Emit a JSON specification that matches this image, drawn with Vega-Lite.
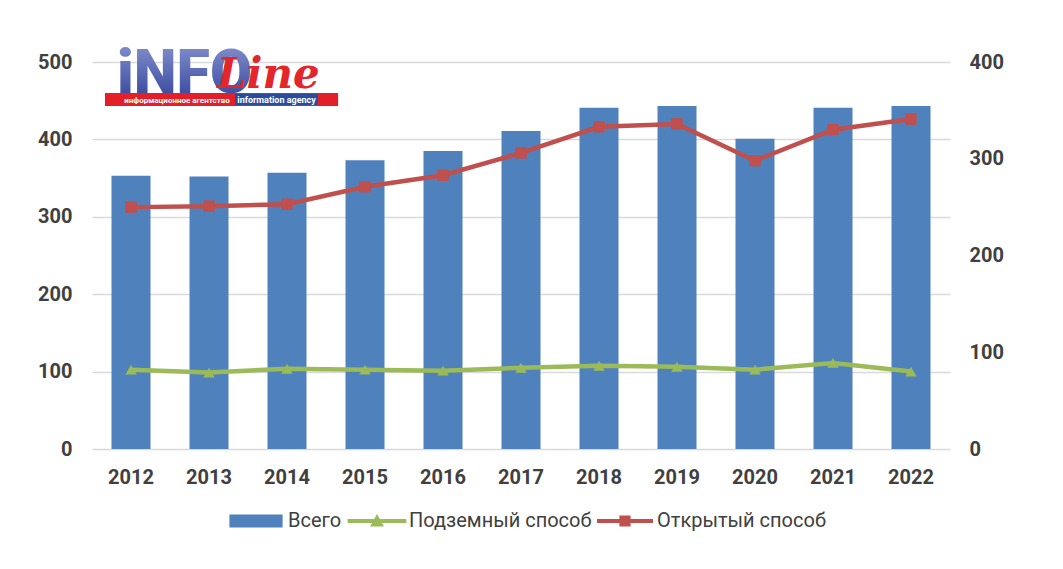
{
  "$schema": "https://vega.github.io/schema/vega-lite/v6.json",
  "width": 858,
  "height": 387,
  "autosize": "none",
  "padding": {"left": 92, "top": 62, "right": 113, "bottom": 120},
  "background": "white",
  "config": {
    "view": {"stroke": null},
    "font": "Roboto",
    "axis": {"labelFont": "Roboto", "labelFontWeight": "bold", "labelFontSize": 20, "labelColor": "#404040", "ticks": false, "domain": false, "gridColor": "#d9d9d9", "gridWidth": 1.5}
  },
  "datasets": {
    "bars": [
      {"year": "2012", "total": 353},
      {"year": "2013", "total": 352},
      {"year": "2014", "total": 357},
      {"year": "2015", "total": 373},
      {"year": "2016", "total": 385},
      {"year": "2017", "total": 411},
      {"year": "2018", "total": 441},
      {"year": "2019", "total": 443},
      {"year": "2020", "total": 401},
      {"year": "2021", "total": 441},
      {"year": "2022", "total": 443}
    ],
    "lines": [
      {"year": "2012", "series": "Подземный способ", "value": 82},
      {"year": "2013", "series": "Подземный способ", "value": 79},
      {"year": "2014", "series": "Подземный способ", "value": 83},
      {"year": "2015", "series": "Подземный способ", "value": 82},
      {"year": "2016", "series": "Подземный способ", "value": 81},
      {"year": "2017", "series": "Подземный способ", "value": 84},
      {"year": "2018", "series": "Подземный способ", "value": 86},
      {"year": "2019", "series": "Подземный способ", "value": 85},
      {"year": "2020", "series": "Подземный способ", "value": 82},
      {"year": "2021", "series": "Подземный способ", "value": 89},
      {"year": "2022", "series": "Подземный способ", "value": 80},
      {"year": "2012", "series": "Открытый способ", "value": 250},
      {"year": "2013", "series": "Открытый способ", "value": 251},
      {"year": "2014", "series": "Открытый способ", "value": 253},
      {"year": "2015", "series": "Открытый способ", "value": 271},
      {"year": "2016", "series": "Открытый способ", "value": 283},
      {"year": "2017", "series": "Открытый способ", "value": 306},
      {"year": "2018", "series": "Открытый способ", "value": 333},
      {"year": "2019", "series": "Открытый способ", "value": 336},
      {"year": "2020", "series": "Открытый способ", "value": 298},
      {"year": "2021", "series": "Открытый способ", "value": 330},
      {"year": "2022", "series": "Открытый способ", "value": 341}
    ],
    "logo": [{"k": 1}]
  },
  "layer": [
    {
      "layer": [
        {
          "data": {"name": "bars"},
          "mark": {"type": "bar"},
          "encoding": {
            "x": {"field": "year", "type": "ordinal", "scale": {"paddingInner": 0.5, "paddingOuter": 0.25}, "axis": {"title": null, "labelAngle": 0, "labelPadding": 18, "grid": false}},
            "y": {"field": "total", "type": "quantitative", "scale": {"domain": [0, 500], "nice": false}, "axis": {"title": null, "values": [0, 100, 200, 300, 400, 500], "grid": true, "labelPadding": 20}},
            "color": {
              "datum": "Всего",
              "type": "nominal",
              "scale": {"domain": ["Всего", "Подземный способ", "Открытый способ"], "range": ["#4f81bd", "#9bbb59", "#c0504d"]},
              "legend": {
                "title": null,
                "orient": "none",
                "legendX": 136,
                "legendY": 431,
                "direction": "horizontal",
                "padding": 0,
                "labelFont": "Roboto",
                "labelFontSize": 20,
                "labelColor": "#404040",
                "labelOffset": 4,
                "labelLimit": 400,
                "columnPadding": 5,
                "symbolSize": 3136,
                "encode": {
                  "symbols": {
                    "update": {
                      "shape": {"signal": "datum.value === 'Всего' ? 'M-0.95,-0.23H0.95V0.23H-0.95Z' : datum.value === 'Подземный способ' ? 'M-1.05,-0.07H1.05V0.07H-1.05Z M0,-0.25L0.25,0.2L-0.25,0.2Z' : 'M-1,-0.07H1V0.07H-1Z M-0.2,-0.2H0.2V0.2H-0.2Z'"},
                      "fill": {"scale": "color", "field": "value"},
                      "strokeWidth": {"value": 0},
                      "opacity": {"value": 1}
                    }
                  }
                }
              }
            }
          }
        },
        {
          "data": {"name": "logo"},
          "mark": {"type": "rect", "color": "#e3202a"},
          "encoding": {
            "x": {"datum": "2012", "type": "ordinal", "bandPosition": -0.167},
            "x2": {"datum": "2015", "bandPosition": -0.19},
            "y": {"datum": 460, "type": "quantitative"},
            "y2": {"datum": 443}
          }
        },
        {
          "data": {"name": "logo"},
          "mark": {"type": "rect", "color": "#2b4c9b"},
          "encoding": {
            "x": {"datum": "2014", "type": "ordinal", "bandPosition": -0.833},
            "x2": {"datum": "2014", "bandPosition": 1.295},
            "y": {"datum": 458.5, "type": "quantitative"},
            "y2": {"datum": 444.5}
          }
        },
        {
          "data": {"name": "logo"},
          "mark": {"type": "text", "text": "информационное агентство", "color": "white", "fontSize": 8, "fontWeight": "bold", "font": "Roboto", "align": "center", "baseline": "alphabetic", "dx": 46},
          "encoding": {
            "x": {"datum": "2012", "type": "ordinal"},
            "y": {"datum": 447, "type": "quantitative"}
          }
        },
        {
          "data": {"name": "logo"},
          "mark": {"type": "text", "text": "information agency", "color": "white", "fontSize": 9, "fontWeight": "bold", "font": "Roboto", "align": "center", "baseline": "alphabetic", "dx": 145.5},
          "encoding": {
            "x": {"datum": "2012", "type": "ordinal"},
            "y": {"datum": 447, "type": "quantitative"}
          }
        },
        {
          "data": {"name": "logo"},
          "mark": {
            "type": "text", "text": "iNFO", "fontSize": 61, "fontWeight": 900, "font": "Roboto", "align": "left", "baseline": "alphabetic", "dx": -14,
            "color": {"gradient": "linear", "x1": 0, "y1": 0, "x2": 0, "y2": 1, "stops": [{"offset": 0, "color": "#8d98d4"}, {"offset": 1, "color": "#2a3d94"}]}
          },
          "encoding": {
            "x": {"datum": "2012", "type": "ordinal"},
            "y": {"datum": 460, "type": "quantitative"}
          }
        },
        {
          "data": {"name": "logo"},
          "mark": {"type": "text", "text": "Line", "color": "#e3262b", "fontSize": 42, "fontWeight": "bold", "fontStyle": "italic", "font": "DejaVu Serif", "align": "left", "baseline": "alphabetic", "dx": 86},
          "encoding": {
            "x": {"datum": "2012", "type": "ordinal"},
            "y": {"datum": 467, "type": "quantitative"}
          }
        }
      ]
    },
    {
      "data": {"name": "lines"},
      "layer": [
        {
          "mark": {"type": "line", "strokeWidth": 4.5},
          "encoding": {
            "x": {"field": "year", "type": "ordinal"},
            "y": {"field": "value", "type": "quantitative", "scale": {"domain": [0, 400], "nice": false}, "axis": {"title": null, "orient": "right", "values": [0, 100, 200, 300, 400], "grid": false, "labelPadding": 19}},
            "color": {"field": "series", "type": "nominal", "title": null}
          }
        },
        {
          "mark": {"type": "point", "filled": true, "opacity": 1, "size": 130},
          "encoding": {
            "x": {"field": "year", "type": "ordinal"},
            "y": {"field": "value", "type": "quantitative"},
            "color": {"field": "series", "type": "nominal", "title": null},
            "shape": {"field": "series", "type": "nominal", "title": null, "scale": {"domain": ["Подземный способ", "Открытый способ"], "range": ["triangle-up", "square"]}, "legend": null}
          }
        }
      ]
    }
  ],
  "resolve": {"scale": {"y": "independent"}}
}
